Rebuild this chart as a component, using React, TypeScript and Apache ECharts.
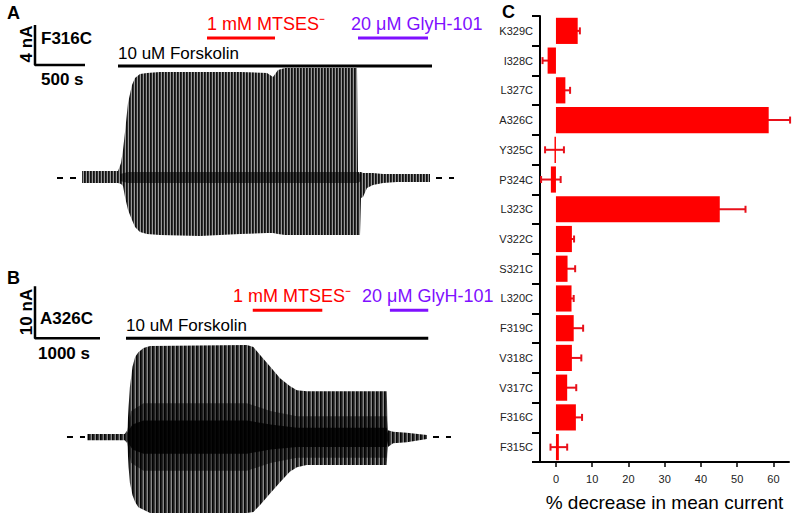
import React, { useEffect, useRef } from 'react';
import * as echarts from 'echarts';

// ---------- Panel C: % decrease in mean current (top to bottom) ----------
const mutants = ['K329C', 'I328C', 'L327C', 'A326C', 'Y325C', 'P324C', 'L323C', 'V322C', 'S321C', 'L320C', 'F319C', 'V318C', 'V317C', 'F316C', 'F315C'];
const meanDecrease = [6.0, -2.3, 2.6, 58.7, -0.4, -1.4, 45.2, 4.4, 3.2, 4.3, 4.9, 4.4, 3.1, 5.5, 0.8];
const semDecrease = [0.6, 1.4, 1.3, 5.9, 2.6, 2.7, 7.1, 0.6, 2.1, 0.6, 2.6, 2.6, 2.5, 1.7, 2.3];
const xTicks = [0, 10, 20, 30, 40, 50, 60];

// ---------- Panel A: F316C current envelope (time s, current nA) ----------
const traceA_t = [0, 360, 390, 410, 430, 460, 500, 530, 580, 650, 780, 1180, 1580, 1850, 1910, 1960, 2030, 2380, 2750, 2760, 2780, 2790, 2810, 2850, 2910, 3010, 3150, 3480];
const traceA_hi = [0.7, 0.7, 1.5, 2.8, 4.6, 7.5, 9.3, 10.0, 10.4, 10.5, 10.6, 10.6, 10.6, 10.5, 10.1, 10.8, 11.0, 11.0, 11.0, 0.6, 0.6, 0.6, 0.5, 0.5, 0.5, 0.4, 0.4, 0.4];
const traceA_lo = [-0.5, -0.5, -0.6, -0.8, -1.9, -3.2, -4.2, -4.9, -5.4, -5.6, -5.7, -5.8, -5.6, -5.5, -5.5, -5.6, -5.7, -5.7, -5.7, -5.7, -5.7, -2.0, -1.9, -1.0, -0.7, -0.5, -0.4, -0.4];
const coreA_t = [380, 460, 2760, 2790];
const coreA_hi = [0.4, 0.6, 0.6, 0.3];
const coreA_lo = [-0.3, -0.5, -0.5, -0.3];
const forskolinA = [360, 3500];
const mtsesA = [1250, 1930];
const glyhA = [2760, 3460];
const baselineA_left = [-250, -60];
const baselineA_right = [3540, 3720];
const scaleA_nA = 4;
const scaleA_s = 500;

// ---------- Panel B: A326C current envelope (time s, current nA) ----------
const traceB_t = [0, 580, 620, 640, 660, 700, 740, 790, 870, 970, 2460, 2560, 2660, 2820, 2970, 3120, 3230, 3380, 4610, 4630, 4710, 4920, 5230];
const traceB_hi = [0.6, 0.6, 1.3, 5.8, 9.6, 13.5, 15.4, 16.3, 17.1, 17.5, 17.7, 17.3, 15.8, 13.5, 11.3, 9.8, 9.0, 8.8, 8.8, 1.3, 1.0, 0.8, 0.4];
const traceB_lo = [-0.6, -0.6, -1.2, -5.8, -8.8, -11.2, -12.5, -13.5, -14.0, -14.6, -14.6, -14.4, -13.1, -10.8, -8.7, -6.7, -5.8, -5.4, -5.4, -1.9, -1.2, -1.0, -0.4];
const haloB_t = [620, 680, 870, 2460, 2820, 3230, 4610, 4630];
const haloB_hi = [1.2, 5.0, 6.5, 6.5, 5.0, 4.0, 4.0, 1.0];
const haloB_lo = [-1.2, -5.0, -6.5, -6.5, -5.0, -4.0, -4.0, -1.0];
const coreB_t = [620, 700, 870, 2460, 2820, 3230, 4610, 4630];
const coreB_hi = [0.8, 2.4, 3.2, 3.2, 2.4, 1.8, 1.8, 0.7];
const coreB_lo = [-0.8, -2.4, -3.2, -3.2, -2.4, -1.9, -1.9, -0.7];
const forskolinB = [600, 5250];
const mtsesB = [2550, 3620];
const glyhB = [4660, 5250];
const baselineB_left = [-308, -31];
const baselineB_right = [5323, 5600];
const scaleB_nA = 10;
const scaleB_s = 1000;

const FONT = 'Liberation Sans, Arial, Helvetica, sans-serif';
const RED = '#ff0000';
const PURPLE = '#7f10ff';

function stripe(cols: string[]) {
  const c = document.createElement('canvas');
  c.width = cols.length;
  c.height = 4;
  const ctx = c.getContext('2d')!;
  cols.forEach((col, i) => {
    ctx.fillStyle = col;
    ctx.fillRect(i, 0, 1, 4);
  });
  return { image: c, repeat: 'repeat', imageWidth: cols.length, imageHeight: 4 } as any;
}

function envelope(axis: number, ts: number[], hi: number[], lo: number[], fill: any, z: number) {
  return {
    type: 'custom',
    xAxisIndex: axis,
    yAxisIndex: axis,
    z,
    silent: true,
    clip: false,
    data: [[ts[0], 0]],
    renderItem: (_p: any, api: any) => {
      const pts: number[][] = [];
      ts.forEach((t, i) => pts.push(api.coord([t, hi[i]])));
      for (let i = ts.length - 1; i >= 0; i--) pts.push(api.coord([ts[i], lo[i]]));
      return { type: 'polygon', shape: { points: pts, smooth: 0 }, style: { fill, stroke: null } };
    },
  };
}

function seg(axis: number, data: number[][], color: string, width: number, type: any = 'solid') {
  return {
    type: 'line',
    xAxisIndex: axis,
    yAxisIndex: axis,
    data,
    symbol: 'none',
    silent: true,
    z: 5,
    lineStyle: { color, width, type, cap: 'butt' },
  };
}

function txt(x: number, y: number, text: string, extra: any = {}, rotation = 0) {
  const align = extra.align || 'left';
  return {
    type: 'text',
    x,
    y,
    rotation,
    silent: true,
    style: {
      text,
      fontFamily: FONT,
      fontSize: 17,
      fontWeight: 'normal',
      fill: '#000',
      ...extra,
      align,
      textAlign: align,
      verticalAlign: 'middle',
      textVerticalAlign: 'middle',
    },
  };
}

function buildOption(): any {
  const patA = stripe(['#111111', '#303030', '#999999']);
  const patB = stripe(['#050505', '#202020', '#454545', '#8a8a8a']);

  // levels (nA) where annotation bars sit
  const lvlA_fsk = 11.2, lvlA_drug = 14.0, cornerA_t = -470, cornerA_i = 11.3;
  const lvlB_fsk = 19.0, lvlB_drug = 24.4, cornerB_t = -800, cornerB_i = 19.0;

  const hidden = { show: false };
  return {
    animation: false,
    backgroundColor: '#fff',
    grid: [
      { left: 0, top: 0, width: 480, height: 260, outerBoundsMode: 'none' },
      { left: 0, top: 260, width: 480, height: 261, outerBoundsMode: 'none' },
      { left: 540, top: 16, width: 249, height: 446, outerBoundsMode: 'none' },
    ],
    xAxis: [
      { gridIndex: 0, type: 'value', min: -820, max: 3980, ...hidden },
      { gridIndex: 1, type: 'value', min: -1338.46, max: 6046.15, ...hidden },
      {
        gridIndex: 2,
        type: 'value',
        min: -4.4,
        max: 64.3,
        axisLine: { show: true, onZero: false, lineStyle: { color: '#000', width: 2 } },
        axisTick: { show: true, customValues: xTicks, length: 5, lineStyle: { color: '#000', width: 1.5 } },
        axisLabel: { customValues: xTicks, fontSize: 11, color: '#222', margin: 11, fontFamily: FONT },
        splitLine: { show: false },
        name: '% decrease in mean current',
        nameLocation: 'middle',
        nameGap: 31,
        nameTextStyle: { fontSize: 19, color: '#000', fontFamily: FONT },
      },
    ],
    yAxis: [
      { gridIndex: 0, type: 'value', min: -8.2, max: 17.8, ...hidden },
      { gridIndex: 1, type: 'value', min: -16.15, max: 34.04, ...hidden },
      {
        gridIndex: 2,
        type: 'category',
        data: mutants,
        inverse: true,
        axisLine: { show: true, onZero: false, lineStyle: { color: '#000', width: 2 } },
        axisTick: { show: true, length: 8, lineStyle: { color: '#000', width: 2 } },
        axisLabel: { fontSize: 11, color: '#222', margin: 7, fontFamily: FONT },
        splitLine: { show: false },
      },
    ],
    series: [
      // Panel A
      envelope(0, traceA_t, traceA_hi, traceA_lo, patA, 2),
      envelope(0, coreA_t, coreA_hi, coreA_lo, 'rgba(0,0,0,0.55)', 3),
      seg(0, baselineA_left.map((t) => [t, 0]), '#000', 2, [6, 7]),
      seg(0, baselineA_right.map((t) => [t, 0]), '#000', 2, [6, 7]),
      seg(0, forskolinA.map((t) => [t, lvlA_fsk]), '#000', 3),
      seg(0, mtsesA.map((t) => [t, lvlA_drug]), RED, 3),
      seg(0, glyhA.map((t) => [t, lvlA_drug]), PURPLE, 3),
      seg(0, [[cornerA_t, cornerA_i + scaleA_nA], [cornerA_t, cornerA_i], [cornerA_t + scaleA_s, cornerA_i]], '#000', 2.5),
      // Panel B
      envelope(1, traceB_t, traceB_hi, traceB_lo, patB, 2),
      envelope(1, haloB_t, haloB_hi, haloB_lo, 'rgba(0,0,0,0.5)', 3),
      envelope(1, coreB_t, coreB_hi, coreB_lo, 'rgba(0,0,0,0.85)', 4),
      seg(1, baselineB_left.map((t) => [t, 0]), '#000', 2, [6, 7]),
      seg(1, baselineB_right.map((t) => [t, 0]), '#000', 2, [6, 7]),
      seg(1, forskolinB.map((t) => [t, lvlB_fsk]), '#000', 3),
      seg(1, mtsesB.map((t) => [t, lvlB_drug]), RED, 3),
      seg(1, glyhB.map((t) => [t, lvlB_drug]), PURPLE, 3),
      seg(1, [[cornerB_t, cornerB_i + scaleB_nA], [cornerB_t, cornerB_i], [cornerB_t + scaleB_s, cornerB_i]], '#000', 2.5),
      // Panel C
      {
        type: 'custom',
        xAxisIndex: 2,
        yAxisIndex: 2,
        z: 1,
        silent: true,
        data: meanDecrease.map((v, i) => [v, i, semDecrease[i]]),
        renderItem: (_p: any, api: any) => {
          const v = api.value(0), ci = api.value(1), e = api.value(2);
          const a = api.coord([v - e, ci]);
          const b = api.coord([v + e, ci]);
          const h = 3.5;
          const st = { stroke: '#e8101a', lineWidth: 2 };
          return {
            type: 'group',
            children: [
              { type: 'line', shape: { x1: a[0], y1: a[1], x2: b[0], y2: b[1] }, style: st },
              { type: 'line', shape: { x1: a[0], y1: a[1] - h, x2: a[0], y2: a[1] + h }, style: st },
              { type: 'line', shape: { x1: b[0], y1: b[1] - h, x2: b[0], y2: b[1] + h }, style: st },
            ],
          };
        },
      },
      {
        type: 'bar',
        xAxisIndex: 2,
        yAxisIndex: 2,
        z: 3,
        silent: true,
        data: meanDecrease,
        barCategoryGap: '12%',
        itemStyle: { color: RED },
      },
    ],
    graphic: [
      txt(7, 13, 'A', { fontWeight: 'bold', fontSize: 18 }),
      txt(26, 44, '4 nA', { fontWeight: 'bold', align: 'center' }, Math.PI / 2),
      txt(41, 38, 'F316C', { fontWeight: 'bold' }),
      txt(41, 79, '500 s', { fontWeight: 'bold' }),
      txt(118, 53, '10 uM Forskolin'),
      txt(207, 24, '1 mM MTSES\u207B', { fill: RED, fontSize: 18 }),
      txt(351, 24, '20 \u03BCM GlyH-101', { fill: PURPLE, fontSize: 18 }),
      txt(7, 278, 'B', { fontWeight: 'bold', fontSize: 18 }),
      txt(26, 312, '10 nA', { fontWeight: 'bold', align: 'center' }, Math.PI / 2),
      txt(40, 318, 'A326C', { fontWeight: 'bold' }),
      txt(38, 353, '1000 s', { fontWeight: 'bold' }),
      txt(126, 325, '10 uM Forskolin'),
      txt(233, 296, '1 mM MTSES\u207B', { fill: RED, fontSize: 18 }),
      txt(362, 296, '20 \u03BCM GlyH-101', { fill: PURPLE, fontSize: 18 }),
      txt(502, 12, 'C', { fontWeight: 'bold', fontSize: 18 }),
    ],
  };
}

export default function App() {
  const ref = useRef<HTMLDivElement>(null);
  useEffect(() => {
    const chart = echarts.init(ref.current!, null, { renderer: 'svg' });
    chart.setOption(buildOption());
    return () => chart.dispose();
  }, []);
  return (
    <div
      ref={ref}
      style={{ position: 'absolute', left: 0, top: 0, width: 800, height: 521, background: '#fff' }}
    />
  );
}
